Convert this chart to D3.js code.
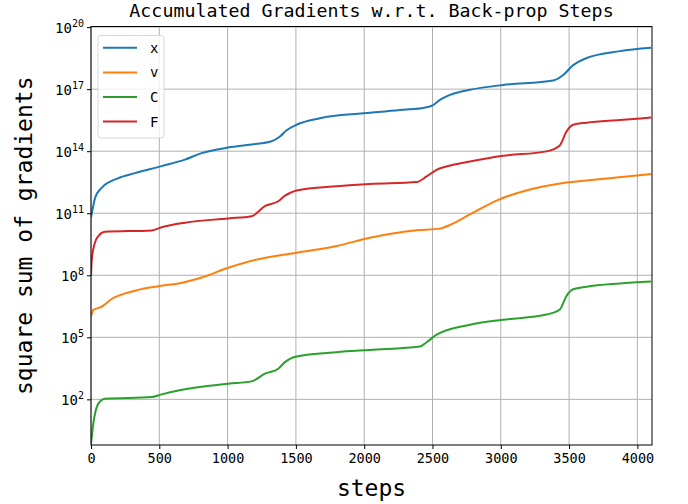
<!DOCTYPE html>
<html>
<head>
<meta charset="utf-8">
<script src="https://cdn.jsdelivr.net/npm/d3@7"></script>
<style>
  body { margin: 0; background: #fff; }
  svg { display: block; }
  text { font-family: "DejaVu Sans Mono", monospace; fill: #000; }
</style>
</head>
<body>
<svg id="chart" width="688" height="504"></svg>
<script>
// ---- data ----
const seriesNames = ["x", "v", "C", "F"];
const seriesColors = ["#1f77b4", "#ff7f0e", "#2ca02c", "#d62728"];

const xSteps = [0, 15, 30, 78, 200, 322, 517, 688, 810, 1005, 1176, 1322, 1383, 1430, 1505, 1676, 1993, 2286, 2440, 2505, 2554, 2603, 2652, 2774, 3017, 3383, 3457, 3530, 3628, 3871, 4100];
const xValues = [6.3e10, 2.0e11, 5.5e11, 1.7e12, 5.0e12, 8.7e12, 1.9e13, 3.9e13, 8.1e13, 1.5e14, 2.1e14, 3.0e14, 5.1e14, 1.0e15, 1.9e15, 3.9e15, 6.8e15, 1.0e16, 1.26e16, 1.7e16, 3.0e16, 4.5e16, 6.0e16, 9.3e16, 1.6e17, 2.6e17, 4.8e17, 1.45e18, 3.2e18, 6.9e18, 1.0e19];

const vSteps = [0, 15, 29, 78, 151, 322, 517, 639, 810, 1005, 1224, 1395, 1505, 1798, 2042, 2383, 2554, 2627, 2774, 2969, 3213, 3457, 3628, 4100];
const vValues = [1.0e6, 2.0e6, 2.3e6, 3.0e6, 7.1e6, 1.8e7, 3.1e7, 4.0e7, 7.8e7, 2.3e8, 5.9e8, 9.5e8, 1.23e9, 2.6e9, 6.5e9, 1.5e10, 1.8e10, 2.7e10, 8.7e10, 4.1e11, 1.4e12, 2.9e12, 3.8e12, 7.9e12];

const cSteps = [0, 17, 54, 102, 444, 517, 639, 1005, 1176, 1273, 1371, 1420, 1456, 1505, 1798, 2042, 2408, 2457, 2530, 2774, 3017, 3335, 3432, 3481, 3530, 3628, 3871, 4100];
const cValues = [0.7, 6.8, 62, 107, 129, 174, 269, 575, 741, 1740, 3020, 6310, 9120, 11700, 19000, 24500, 35500, 57500, 135000, 407000, 708000, 1.26e6, 2.2e6, 1.0e7, 2.1e7, 2.8e7, 4.0e7, 5.0e7];

const fSteps = [0, 5, 25, 54, 102, 444, 517, 688, 1005, 1176, 1273, 1371, 1420, 1456, 1505, 1798, 2042, 2383, 2457, 2530, 2652, 2774, 3017, 3335, 3432, 3481, 3530, 3628, 3871, 4100];
const fValues = [9.3e7, 4.9e8, 3.2e9, 7.9e9, 1.26e10, 1.48e10, 2.1e10, 3.5e10, 5.6e10, 7.2e10, 2.2e11, 3.8e11, 7.1e11, 9.5e11, 1.26e12, 2.0e12, 2.6e12, 3.2e12, 6.0e12, 1.26e13, 2.2e13, 3.2e13, 6.0e13, 9.8e13, 1.9e14, 8.9e14, 1.9e15, 2.4e15, 3.2e15, 4.2e15];

const xTickValues = [0, 500, 1000, 1500, 2000, 2500, 3000, 3500, 4000];
const yTickExponents = [2, 5, 8, 11, 14, 17, 20];

const titleText = "Accumulated Gradients w.r.t. Back-prop Steps";
const xLabelText = "steps";
const yLabelText = "square sum of gradients";

// ---- layout ----
const L = 91, R = 652, T = 26.5, B = 445;
const svg = d3.select("#chart");

const x = d3.scaleLinear().domain([0, 4107]).range([L, R]);
const y = d3.scaleLog().domain([0.62, 1.07e20]).range([B, T]);

// grid
const grid = svg.append("g");
grid.selectAll(".gx").data(xTickValues).enter().append("line")
  .attr("x1", d => x(d)).attr("x2", d => x(d)).attr("y1", T).attr("y2", B)
  .attr("stroke", "#b0b0b0").attr("stroke-width", 1);
grid.selectAll(".gy").data(yTickExponents).enter().append("line")
  .attr("x1", L).attr("x2", R).attr("y1", d => y(Math.pow(10, d))).attr("y2", d => y(Math.pow(10, d)))
  .attr("stroke", "#b0b0b0").attr("stroke-width", 1);

// lines
const series = [
  { steps: xSteps, values: xValues },
  { steps: vSteps, values: vValues },
  { steps: cSteps, values: cValues },
  { steps: fSteps, values: fValues }
];
const line = d3.line().x(d => x(d[0])).y(d => y(d[1])).curve(d3.curveMonotoneX);
svg.append("clipPath").attr("id", "clip").append("rect")
  .attr("x", L).attr("y", T).attr("width", R - L).attr("height", B - T);
series.forEach((s, i) => {
  const pts = s.steps.map((st, j) => [st, s.values[j]]);
  svg.append("path").attr("d", line(pts))
    .attr("fill", "none").attr("stroke", seriesColors[i]).attr("stroke-width", 2)
    .attr("clip-path", "url(#clip)");
});

// frame
svg.append("rect").attr("x", L).attr("y", T).attr("width", R - L).attr("height", B - T)
  .attr("fill", "none").attr("stroke", "#000").attr("stroke-width", 1);

// x axis
const xAxis = svg.append("g").attr("transform", `translate(0,${B})`)
  .call(d3.axisBottom(x).tickValues(xTickValues).tickSize(4).tickPadding(4).tickFormat(d3.format("d")));
xAxis.select(".domain").remove();
xAxis.selectAll("text").attr("font-family", "DejaVu Sans Mono").attr("font-size", 13.5).attr("fill", "#000");

// y axis
const yAxis = svg.append("g").attr("transform", `translate(${L},0)`)
  .call(d3.axisLeft(y).tickValues(yTickExponents.map(e => Math.pow(10, e))).tickSize(4).tickFormat(""));
yAxis.select(".domain").remove();
yTickExponents.forEach(e => {
  const t = svg.append("text")
    .attr("x", L - 7).attr("y", y(Math.pow(10, e)) + 5.5)
    .attr("text-anchor", "end").attr("font-size", 14);
  t.append("tspan").text("10");
  t.append("tspan").attr("dy", -6).attr("font-size", 10).text(String(e));
});

// titles
svg.append("text").attr("x", (L + R) / 2).attr("y", 17).attr("text-anchor", "middle")
  .attr("font-size", 18.3).text(titleText);
svg.append("text").attr("x", (L + R) / 2).attr("y", 496).attr("text-anchor", "middle")
  .attr("font-size", 23).text(xLabelText);
svg.append("text").attr("transform", `translate(32,${(T + B) / 2}) rotate(-90)`)
  .attr("text-anchor", "middle").attr("font-size", 23).text(yLabelText);

// legend
const lg = svg.append("g");
lg.append("rect").attr("x", 98).attr("y", 35.5).attr("width", 66).attr("height", 102.5)
  .attr("rx", 3).attr("fill", "#fff").attr("fill-opacity", 0.8)
  .attr("stroke", "#d8d8d8").attr("stroke-width", 1);
seriesNames.forEach((n, i) => {
  const yy = 47.8 + i * 24.6;
  lg.append("line").attr("x1", 103).attr("x2", 137).attr("y1", yy).attr("y2", yy)
    .attr("stroke", seriesColors[i]).attr("stroke-width", 2);
  lg.append("text").attr("x", 150).attr("y", yy + 5).attr("font-size", 14).text(n);
});
</script>
</body>
</html>
